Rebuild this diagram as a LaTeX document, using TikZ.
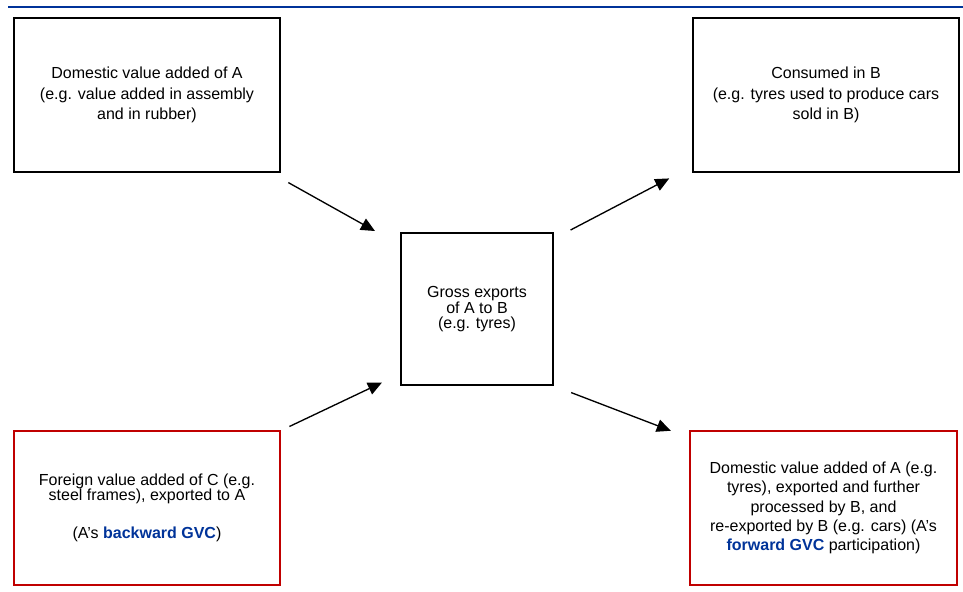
\documentclass[tikz,border=0pt]{standalone}
\usepackage{fontspec}
\setmainfont{Liberation Sans}
\usepackage{xcolor}
\usetikzlibrary{arrows.meta,positioning}
\definecolor{gvcblue}{RGB}{0,51,153}
\definecolor{gvcred}{RGB}{192,0,0}
\tikzset{
	>={Triangle[length=10.5pt,width=9.5pt]},
	box/.style = {
			draw, line width=1.5pt, rectangle, align=center,
			minimum width=200pt, minimum height=115pt,
			font=\fontsize{12pt}{14.5pt}\selectfont,
		},
	redbox/.style = {box, draw=gvcred},
	flow/.style = {->, line width=1pt},
}

\begin{document}
\begin{tikzpicture}[x=0.75pt, y=-0.75pt]
	\useasboundingbox (0,0) rectangle (963,592);
	\draw[gvcblue, line width=2pt] (8,7) -- (963,7);

	\node[box, font=\fontsize{12pt}{15.5pt}\selectfont] at (147,95) (dva) {Domestic value added of A\\(e.g. value added in assembly\\and in rubber)};
	\node[box, font=\fontsize{12pt}{15.5pt}\selectfont] at (826,95) (cons) {Consumed in B\\(e.g. tyres used to produce cars\\sold in B)};

	\node[box, minimum width=114pt, minimum height=114pt, font=\fontsize{12pt}{11pt}\selectfont] at (477,309) (gross) {Gross exports\\of A to B\\(e.g. tyres)};

	\node[redbox, font=\fontsize{12pt}{11.25pt}\selectfont] at (147,508) (fva) {Foreign value added of C (e.g.\\steel frames), exported to A\\[17pt](A's \textcolor{gvcblue}{\textbf{backward GVC}})};
	\node[redbox, minimum width=200.5pt] at (823.5,508) (fwd) {Domestic value added of A (e.g.\\tyres), exported and further\\processed by B, and\\re-exported by B (e.g. cars) (A's\\\textcolor{gvcblue}{\textbf{forward GVC}} participation)};

	\draw[flow, shorten <=6pt, shorten >=21.5pt] ([yshift=-4.5pt]dva.south east) -- ([yshift=-9.75pt]gross.north west);
	\draw[flow, shorten <=14pt, shorten >=19pt] ([yshift=-5pt]gross.north east) -- ([yshift=4.5pt]cons.south west);
	\draw[flow, shorten <=6.7pt, shorten >=15pt] (fva.north east) -- ([yshift=9pt]gross.south west);
	\draw[flow, shorten <=13.8pt, shorten >=14.5pt] (gross.south east) -- ([yshift=-5.5pt]fwd.north west);
\end{tikzpicture}
\end{document}
